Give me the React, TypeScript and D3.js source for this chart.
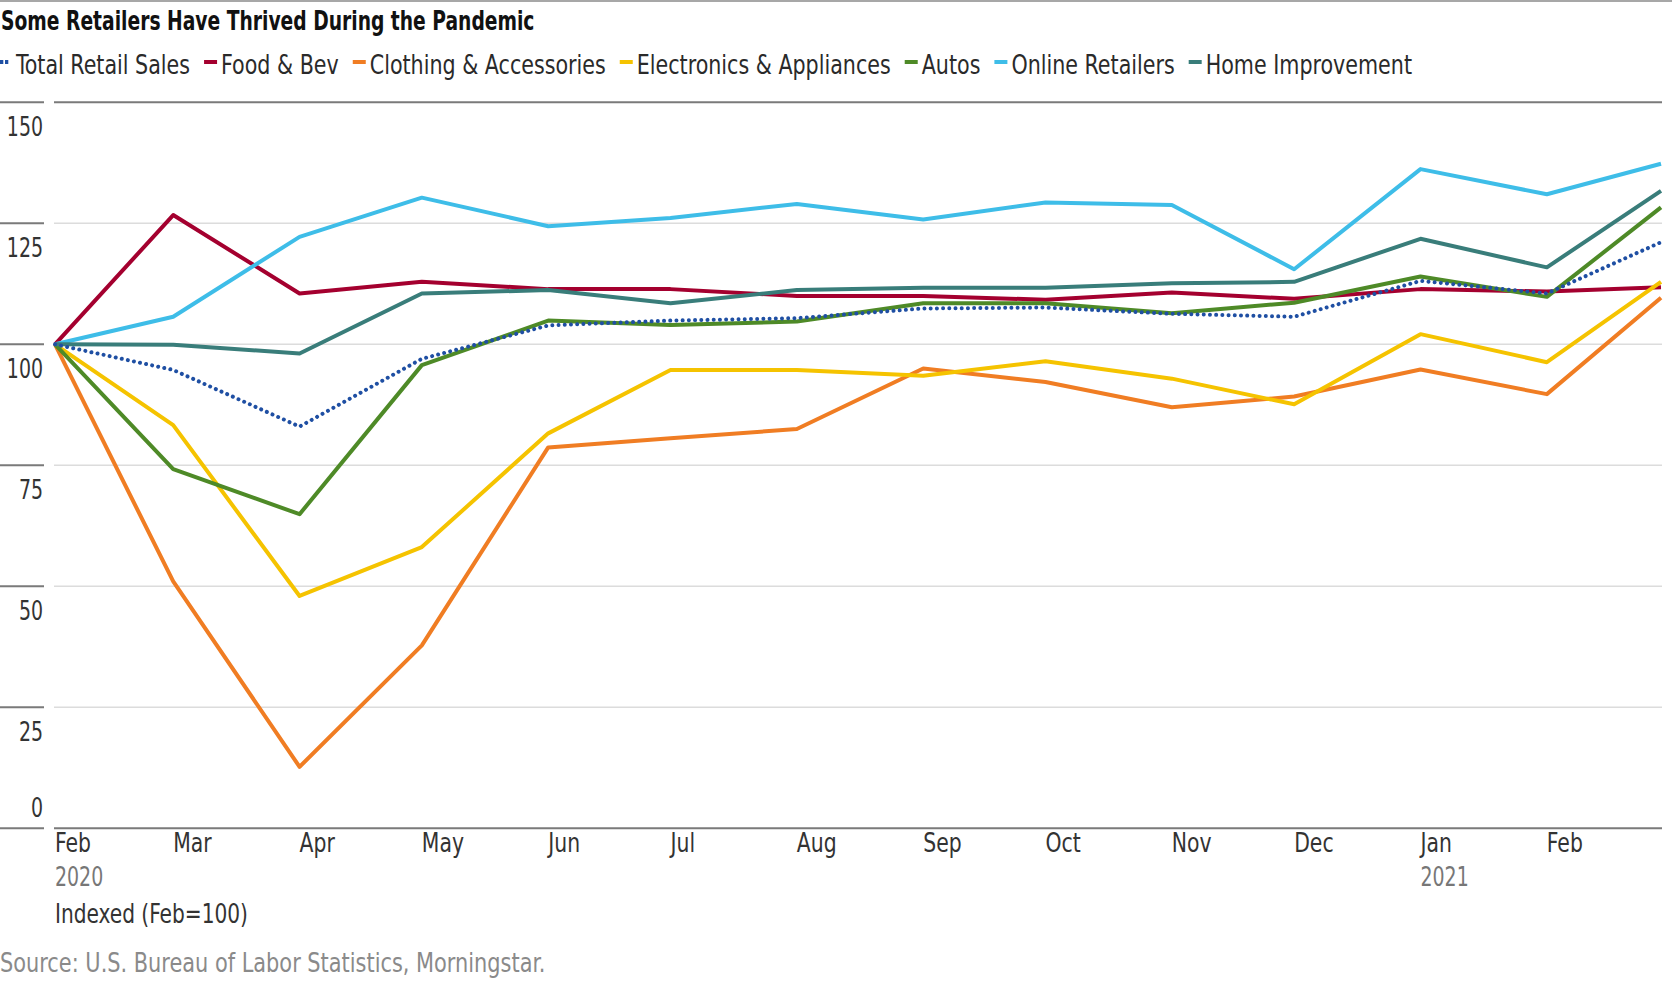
import React, { useLayoutEffect, useRef, useState } from "react";
import * as d3 from "d3";

// ---------- data ----------
const MONTHS = [
  "2020-02", "2020-03", "2020-04", "2020-05", "2020-06", "2020-07", "2020-08",
  "2020-09", "2020-10", "2020-11", "2020-12", "2021-01", "2021-02", "2021-03",
];
const TOTAL_RETAIL = [100, 94.7, 83.0, 97.0, 103.9, 104.9, 105.4, 107.4, 107.6, 106.3, 105.7, 113.1, 110.5, 121.1];
const FOOD_BEV = [100, 126.7, 110.5, 112.9, 111.4, 111.4, 110.0, 110.0, 109.2, 110.7, 109.4, 111.4, 110.9, 111.8];
const CLOTHING = [100, 51.0, 12.7, 37.8, 78.7, 80.6, 82.5, 95.0, 92.2, 87.0, 89.2, 94.8, 89.7, 109.6];
const ELECTRONICS = [100, 83.3, 48.0, 58.1, 81.6, 94.7, 94.7, 93.5, 96.5, 92.9, 87.6, 102.1, 96.3, 112.9];
const AUTOS = [100, 74.2, 64.9, 95.7, 104.9, 104.0, 104.7, 108.5, 108.5, 106.4, 108.6, 114.0, 109.8, 128.3];
const ONLINE = [100, 105.7, 122.2, 130.3, 124.4, 126.1, 129.0, 125.8, 129.3, 128.8, 115.5, 136.2, 131.0, 137.3];
const HOME_IMPROVEMENT = [100, 99.9, 98.1, 110.5, 111.2, 108.5, 111.2, 111.7, 111.7, 112.6, 112.9, 121.8, 115.9, 131.7];

const SERIES_NAMES = [
  "Total Retail Sales", "Food & Bev", "Clothing & Accessories", "Electronics & Appliances",
  "Autos", "Online Retailers", "Home Improvement",
];
const SERIES_VALUES = [TOTAL_RETAIL, FOOD_BEV, CLOTHING, ELECTRONICS, AUTOS, ONLINE, HOME_IMPROVEMENT];
const SERIES_COLORS = ["#1f4fa3", "#a4002f", "#f07d23", "#f5c300", "#4e8a27", "#3ebde8", "#397d7a"];

const Y_TICKS = [0, 25, 50, 75, 100, 125, 150];
const X_TICK_MONTHS = MONTHS.slice(0, 13);
const YEAR_LABELS = [["2020-02", "2020"], ["2021-01", "2021"]];

const TITLE = "Some Retailers Have Thrived During the Pandemic";
const UNIT_NOTE = "Indexed (Feb=100)";
const SOURCE = "Source: U.S. Bureau of Labor Statistics, Morningstar.";

const FONT = "'Liberation Sans Narrow', 'Arial Narrow', 'DejaVu Sans Condensed', 'Roboto', sans-serif";

// horizontal condensing to approximate the narrow reference face
const SX_TITLE = 0.8;
const SX_LEGEND = 0.85;
const SX_NUM = 0.78;
const SX_MONTH = 0.84;
const SX_NOTE = 0.83;
const SX_SOURCE = 0.86;

type TProps = {
  x: number;
  y: number;
  sx: number;
  anchor?: "start" | "end" | "middle";
  size?: number;
  weight?: string;
  fill?: string;
  children: React.ReactNode;
  tref?: (el: SVGTextElement | null) => void;
};
function T({ x, y, sx, anchor = "start", size = 27, weight = "normal", fill = "#222", children, tref }: TProps) {
  return (
    <text
      ref={tref}
      transform={`translate(${x},${y}) scale(${sx},1)`}
      textAnchor={anchor}
      fontSize={size}
      fontWeight={weight}
      fill={fill}
    >
      {children}
    </text>
  );
}

export default function App() {
  const W = 1672, H = 983;
  const parse = d3.timeParse("%Y-%m");
  const dates = MONTHS.map((m) => parse(m) as Date);
  const x = d3.scaleTime().domain([dates[0], dates[dates.length - 1]]).range([55, 1661]);
  const y = d3.scaleLinear().domain([0, 150]).range([828.3, 102.3]);
  const fmt = d3.timeFormat("%b");

  const line = d3
    .line<number>()
    .x((_, i) => x(dates[i]))
    .y((v) => y(v));

  const textRefs = useRef<(SVGTextElement | null)[]>([]);
  const [widths, setWidths] = useState<number[] | null>(null);
  useLayoutEffect(() => {
    setWidths(textRefs.current.map((t) => (t ? t.getComputedTextLength() * SX_LEGEND : 100)));
  }, []);

  // legend layout from measured widths
  const legendPos: number[] = [];
  let cx = -1;
  SERIES_NAMES.forEach((_, i) => {
    legendPos.push(cx);
    const w = widths ? widths[i] : 150;
    cx = cx + 17 + w + 14;
  });

  const drawOrder = [1, 2, 3, 4, 5, 6, 0];

  return (
    <svg
      width={W}
      height={H}
      style={{ position: "absolute", left: 0, top: 0, display: "block", background: "#fff" }}
      fontFamily={FONT}
    >
      <line x1={0} x2={W} y1={1} y2={1} stroke="#8a8a8a" strokeWidth={1.5} />
      <T x={1} y={30} sx={SX_TITLE} size={26} weight="bold" fill="#111">
        {TITLE}
      </T>

      {/* legend */}
      {SERIES_NAMES.map((name, i) => (
        <g key={name} transform={`translate(${legendPos[i]},0)`}>
          {i === 0 ? (
            <line x1={1} x2={10} y1={62} y2={62} stroke={SERIES_COLORS[i]} strokeWidth={4} strokeDasharray="3.3 1.7" />
          ) : (
            <rect x={0} y={60} width={13} height={4} fill={SERIES_COLORS[i]} />
          )}
          <T
            tref={(el) => {
              textRefs.current[i] = el;
            }}
            x={17}
            y={74}
            sx={SX_LEGEND}
            fill="#2a2a2a"
          >
            {name}
          </T>
        </g>
      ))}

      {/* y grid + ticks */}
      {Y_TICKS.map((t) => {
        const yy = y(t);
        const strong = t === 0 || t === 150;
        return (
          <g key={t}>
            <line x1={0} x2={44} y1={yy} y2={yy} stroke="#7a7a7a" strokeWidth={2} />
            <line
              x1={54}
              x2={1662}
              y1={yy}
              y2={yy}
              stroke={strong ? "#7a7a7a" : "#dcdcdc"}
              strokeWidth={strong ? 2 : 1.5}
            />
            <T x={43} y={t === 0 ? yy - 11 : yy + 33.5} sx={SX_NUM} anchor="end" fill="#333">
              {t}
            </T>
          </g>
        );
      })}

      {/* x labels */}
      {X_TICK_MONTHS.map((m) => {
        const d = parse(m) as Date;
        return (
          <T key={m} x={x(d)} y={852} sx={SX_MONTH} fill="#333">
            {fmt(d)}
          </T>
        );
      })}
      {YEAR_LABELS.map(([m, label]) => (
        <T key={label} x={x(parse(m) as Date)} y={886} sx={SX_NUM} fill="#777">
          {label}
        </T>
      ))}
      <T x={55} y={923} sx={SX_NOTE} fill="#333">
        {UNIT_NOTE}
      </T>
      <T x={0} y={972} sx={SX_SOURCE} fill="#8a8a8a">
        {SOURCE}
      </T>

      {/* lines */}
      {drawOrder.map((i) => (
        <path
          key={SERIES_NAMES[i]}
          d={line(SERIES_VALUES[i]) || ""}
          fill="none"
          stroke={SERIES_COLORS[i]}
          strokeWidth={4}
          strokeLinejoin="round"
          strokeLinecap={i === 0 ? "round" : "butt"}
          strokeDasharray={i === 0 ? "0.01 6.2" : undefined}
        />
      ))}
    </svg>
  );
}
